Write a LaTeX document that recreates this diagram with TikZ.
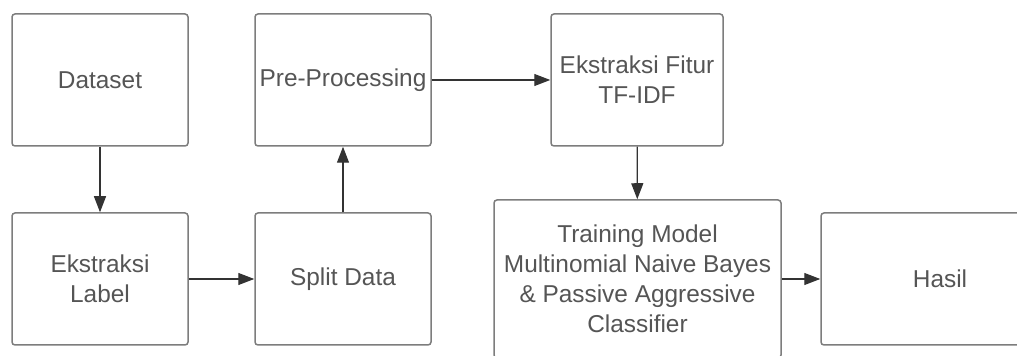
\documentclass[tikz,border=0pt]{standalone}
\usepackage{fontspec}
\setmainfont{Liberation Sans}
\usepackage{xcolor}
\usetikzlibrary{arrows.meta}

\definecolor{boxline}{RGB}{125,125,125}
\definecolor{boxtext}{RGB}{85,85,85}

\tikzset{
  stepbox/.style={draw=boxline, line width=0.75pt, rounded corners=1.5pt, fill=white,
    text=boxtext, align=center, inner sep=0pt,
    font=\fontsize{12.2}{15}\selectfont},
  flow/.style={draw=black!80, line width=0.6pt, -{Triangle[length=8pt,width=6pt]}}
}

\begin{document}
\begin{tikzpicture}[x=0.5pt,y=0.5pt,yscale=-1,xscale=1]
\useasboundingbox (0,0) rectangle (1017,356);
\clip (0,0) rectangle (1017,356);

%Shape: Rectangle [Dataset]
\node [stepbox, minimum width=88pt, minimum height=66pt] (dataset) at (100,80) {Dataset};
%Shape: Rectangle [Ekstraksi Label]
\node [stepbox, minimum width=88pt, minimum height=66pt] (label) at (100,279) {Ekstraksi\\Label};
%Shape: Rectangle [Pre-Processing]
\node [stepbox, minimum width=88pt, minimum height=66pt] (preproc) at (343,80) {Pre-Processing};
%Shape: Rectangle [Split Data]
\node [stepbox, minimum width=88pt, minimum height=66pt] (split) at (343,279) {Split Data};
%Shape: Rectangle [Ekstraksi Fitur]
\node [stepbox, minimum width=86pt, minimum height=66pt] (fitur) at (637,80) {Ekstraksi Fitur\\TF-IDF};
%Shape: Rectangle [Training]
\node [stepbox, minimum width=143.5pt, minimum height=79pt] (training) at (637.5,279) {Training Model\\Multinomial Naive Bayes\\\& Passive Aggressive\\Classifier};
%Shape: Rectangle [Hasil]
\node [stepbox, minimum width=119pt, minimum height=66pt] (hasil) at (940,279) {Hasil};

%Straight Lines
\draw [flow] (dataset) -- (label);
\draw [flow] (label) -- (split);
\draw [flow] (split) -- (preproc);
\draw [flow] (preproc) -- (fitur);
\draw [flow] (fitur) -- (training);
\draw [flow] (training) -- (hasil);

\end{tikzpicture}
\end{document}
